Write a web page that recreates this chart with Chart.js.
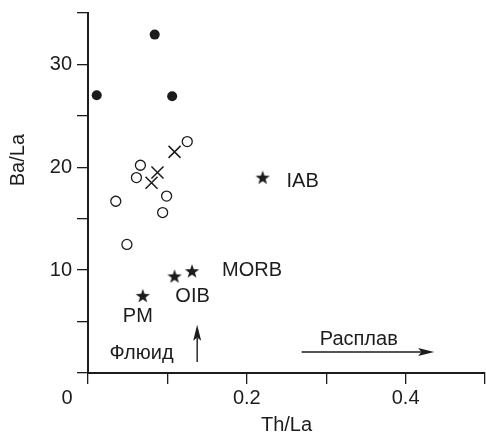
<!DOCTYPE html>
<html><head><meta charset="utf-8">
<script src="https://cdn.jsdelivr.net/npm/chart.js@4/dist/chart.umd.min.js"></script>
<style>html,body{margin:0;padding:0;background:#fff}canvas{display:block}</style>
</head><body>
<canvas id="c" width="486" height="434"></canvas>
<script>
// ---- data ----
const filledX = [0.011, 0.084, 0.106];
const filledY = [27.0, 32.9, 26.9];
const openX = [0.125, 0.066, 0.061, 0.035, 0.099, 0.094, 0.049];
const openY = [22.5, 20.2, 19.0, 16.7, 17.2, 15.6, 12.5];
const crossX = [0.109, 0.0875, 0.080];
const crossY = [21.5, 19.5, 18.5];
const starNames = ['PM', 'OIB', 'MORB', 'IAB'];
const starX = [0.069, 0.109, 0.131, 0.22];
const starY = [7.5, 9.4, 9.9, 19.0];
const xTickLabels = ['0.2', '0.4'];
const yTickLabels = ['10', '20', '30'];
const xTitle = 'Th/La';
const yTitle = 'Ba/La';
const fluidText = 'Флюид';
const meltText = 'Расплав';

// ---- layout / style (not data) ----
const INK = '#1c1c1c';
const FONT = '"Liberation Sans", Arial, Helvetica, sans-serif';
const starLabelOffsets = [[-5, 21], [18, 20], [60, -1], [40, 4]];

function pts(xs, ys) { return xs.map((v, i) => ({x: v, y: ys[i]})); }

function makeStar() {
  const c = document.createElement('canvas');
  c.width = 16; c.height = 16;
  const g = c.getContext('2d');
  g.fillStyle = INK;
  g.beginPath();
  const R = 7.5, r = 3.0, cx = 8, cy = 8.5;
  for (let i = 0; i < 10; i++) {
    const a = -Math.PI / 2 + i * Math.PI / 5;
    const rr = i % 2 ? r : R;
    const px = cx + rr * Math.cos(a), py = cy + rr * Math.sin(a);
    if (i === 0) g.moveTo(px, py); else g.lineTo(px, py);
  }
  g.closePath(); g.fill();
  return c;
}
const starImg = makeStar();

function arrow(ctx, x1, y1, x2, y2) {
  const ang = Math.atan2(y2 - y1, x2 - x1);
  const L = 16, W = 4;
  const bx = x2 - L * Math.cos(ang), by = y2 - L * Math.sin(ang);
  ctx.beginPath();
  ctx.moveTo(x1, y1); ctx.lineTo(bx + 3 * Math.cos(ang), by + 3 * Math.sin(ang));
  ctx.lineWidth = 1.4; ctx.stroke();
  ctx.beginPath();
  ctx.moveTo(x2, y2);
  ctx.lineTo(bx + W * Math.sin(ang), by - W * Math.cos(ang));
  ctx.lineTo(bx + 0.2 * L * Math.cos(ang), by + 0.2 * L * Math.sin(ang));
  ctx.lineTo(bx - W * Math.sin(ang), by + W * Math.cos(ang));
  ctx.closePath(); ctx.fill();
}

const annot = {
  id: 'annot',
  afterDraw(chart) {
    const {ctx} = chart;
    const x = chart.scales.x, y = chart.scales.y;
    ctx.save();
    ctx.fillStyle = INK; ctx.strokeStyle = INK;
    ctx.font = '20px ' + FONT;
    ctx.textAlign = 'center'; ctx.textBaseline = 'middle';
    starNames.forEach((n, i) => {
      const o = starLabelOffsets[i];
      ctx.fillText(n, x.getPixelForValue(starX[i]) + o[0], y.getPixelForValue(starY[i]) + o[1]);
    });
    // origin label
    ctx.fillText('0', x.getPixelForValue(0) - 21, x.top + 25);
    // process labels and arrows
    ctx.fillText(fluidText, x.getPixelForValue(0.0675), y.getPixelForValue(1.85));
    ctx.fillText(meltText, x.getPixelForValue(0.341), y.getPixelForValue(3.3));
    arrow(ctx, x.getPixelForValue(0.1375), y.getPixelForValue(1.07), x.getPixelForValue(0.1375), y.getPixelForValue(4.7));
    arrow(ctx, x.getPixelForValue(0.269), y.getPixelForValue(2.04), x.getPixelForValue(0.436), y.getPixelForValue(2.04));
    // y title
    ctx.translate(18, y.getPixelForValue(20.7));
    ctx.rotate(-Math.PI / 2);
    ctx.fillText(yTitle, 0, 0);
    ctx.restore();
  }
};

new Chart(document.getElementById('c'), {
  type: 'scatter',
  data: {
    datasets: [
      {data: pts(filledX, filledY), pointStyle: 'circle', pointRadius: 5, backgroundColor: INK, borderColor: INK, borderWidth: 0},
      {data: pts(openX, openY), pointStyle: 'circle', pointRadius: 5, backgroundColor: '#fff', borderColor: INK, borderWidth: 1.3},
      {data: pts(crossX, crossY), pointStyle: 'crossRot', pointRadius: 8.5, backgroundColor: INK, borderColor: INK, borderWidth: 1.5},
      {data: pts(starX, starY), pointStyle: starImg, pointRadius: 8, backgroundColor: INK, borderColor: INK}
    ]
  },
  options: {
    responsive: false,
    animation: false,
    events: [],
    layout: {autoPadding: false, padding: {left: 2, right: 1, top: 13, bottom: 0}},
    plugins: {legend: {display: false}, tooltip: {enabled: false}},
    scales: {
      x: {
        type: 'linear', min: 0, max: 0.5,
        border: {display: true, color: INK, width: 2},
        grid: {drawOnChartArea: false, drawTicks: true, tickLength: 11, color: INK, lineWidth: 1.3},
        ticks: {
          stepSize: 0.1, padding: 2, color: INK, font: {family: FONT, size: 20},
          maxRotation: 0, autoSkip: false,
          callback: v => { const s = (Math.round(v * 10) / 10).toFixed(1); return xTickLabels.includes(s) ? s : ''; }
        },
        title: {display: true, text: xTitle, color: INK, font: {family: FONT, size: 20, lineHeight: 0.9}, padding: {top: 0, bottom: 0}},
        afterFit: s => { s.height = 61; s.paddingLeft = 0; s.paddingRight = 0; }
      },
      y: {
        type: 'linear', min: 0, max: 35,
        border: {display: true, color: INK, width: 2},
        grid: {drawOnChartArea: false, drawTicks: true, tickLength: 11, color: INK, lineWidth: 1.3},
        ticks: {
          stepSize: 5, padding: 5, color: INK, font: {family: FONT, size: 20}, autoSkip: false,
          callback: v => yTickLabels.includes(String(v)) ? String(v) : ''
        },
        title: {display: false},
        afterFit: s => { s.width = 86; s.paddingTop = 0; s.paddingBottom = 0; }
      }
    }
  },
  plugins: [annot]
});
</script>
</body></html>
